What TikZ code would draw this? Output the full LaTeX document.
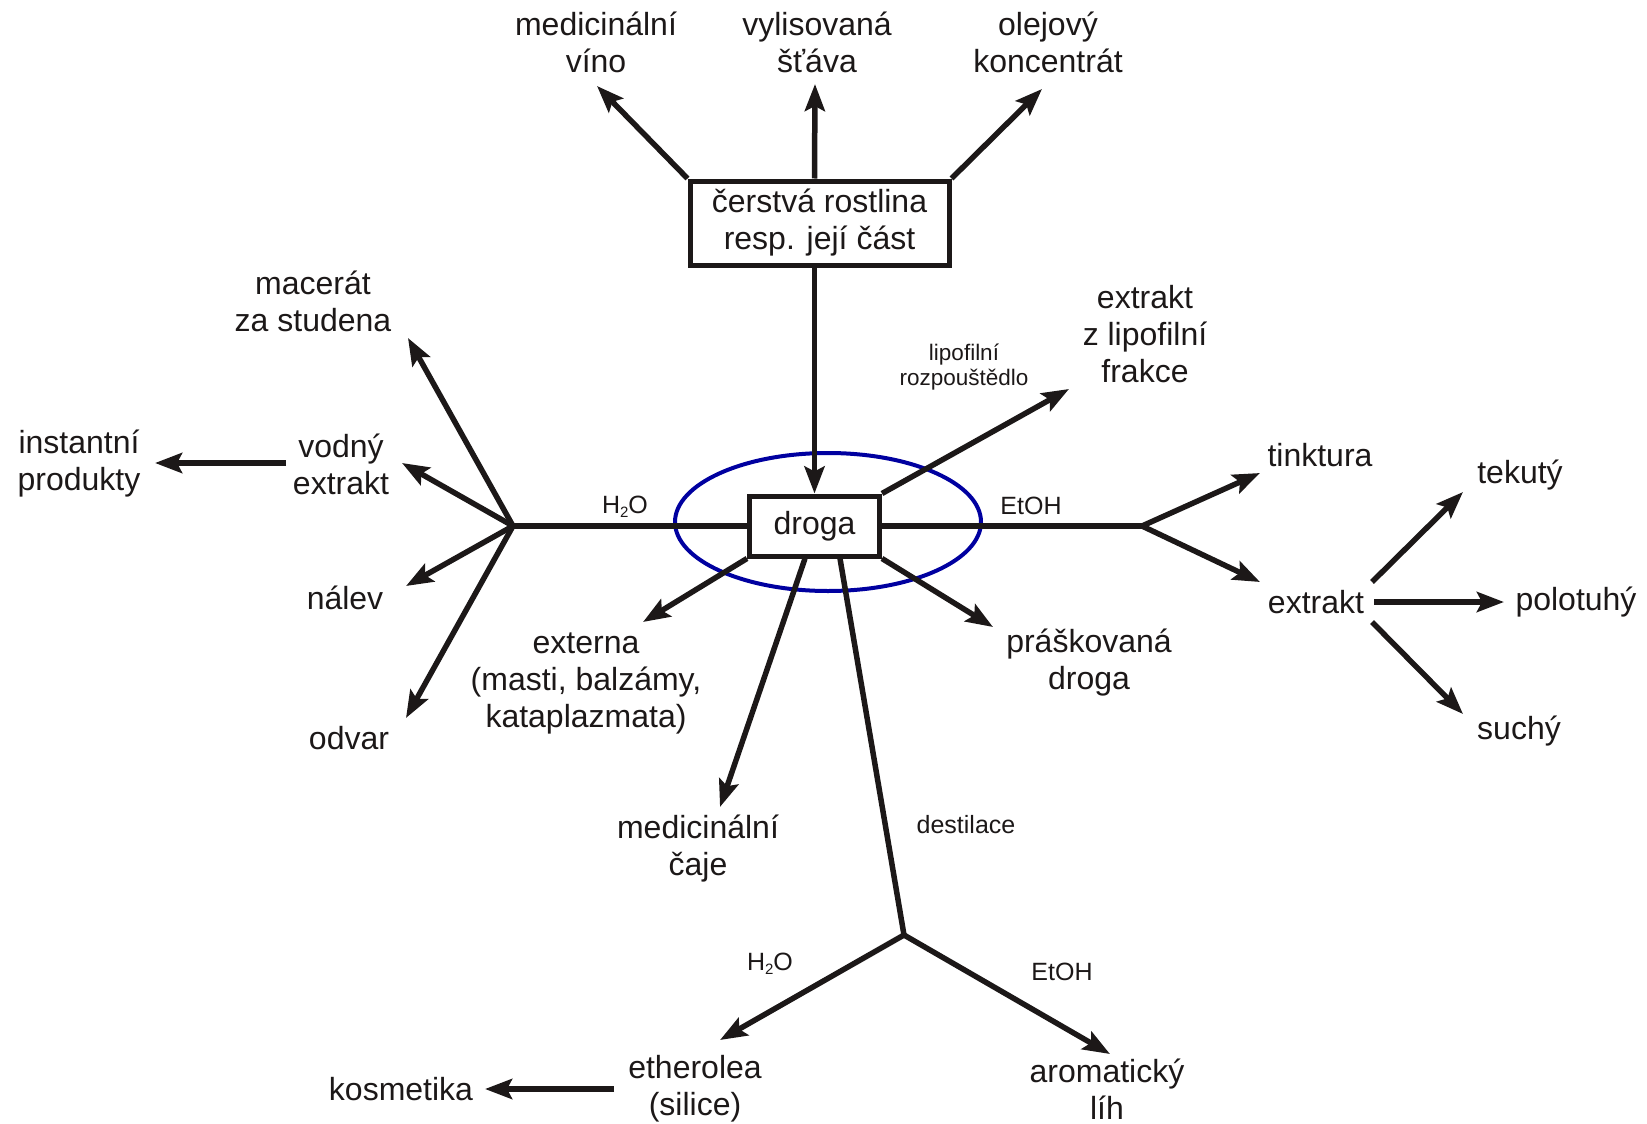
\documentclass[tikz,border=0pt]{standalone}
\usepackage{fontspec}
\setmainfont{Liberation Sans}
\usetikzlibrary{arrows.meta,calc}
\definecolor{ink}{RGB}{28,24,24}
\definecolor{ringblue}{RGB}{0,0,160}
\newcommand{\water}{H\raisebox{-0.3ex}{\fontsize{15}{15}\selectfont 2}O}
\begin{document}
\begin{tikzpicture}[x=1pt,y=-1pt,
  lbl/.style={font=\fontsize{32}{37}\selectfont, align=center, text=ink, inner sep=0pt},
  sml/.style={font=\fontsize{25}{28}\selectfont, align=center, text=ink, inner sep=0pt},
  tny/.style={font=\fontsize{22.5}{25.5}\selectfont, align=center, text=ink, inner sep=0pt},
  box/.style={draw=ink, line width=5pt, align=center, text=ink, inner sep=0pt,
              font=\fontsize{32}{37}\selectfont},
  ln/.style={draw=ink, line width=5.5pt},
  arr/.style={ln, -{Stealth[length=27pt,width=20pt,inset=5pt]}},
]
\useasboundingbox (0,0) rectangle (1647,1124);

% central boxes
\node[box, minimum width=259pt, minimum height=84pt] (plant) at (819.5,223) {čerstvá rostlina\\resp. její část};
\node[box, minimum width=130pt, minimum height=60pt] (droga) at (814.5,526) {droga};
\draw[ringblue, line width=4pt] (828,522) ellipse [x radius=153pt, y radius=69pt];

% products of the fresh plant
\node[lbl] (vino) at (596,42) {medicinální\\víno};
\node[lbl] (stava) at (817,42) {vylisovaná\\šťáva};
\node[lbl] (olej) at (1048,42) {olejový\\koncentrát};
\coordinate (tVino) at (597,86);
\coordinate (tStava) at (815,84);
\coordinate (tOlej) at (1042,89);
\draw[arr] (plant.north west) -- (tVino);
\draw[arr] (plant.north -| droga) -- (tStava);
\draw[arr] (plant.north east) -- (tOlej);
\draw[arr] (plant.south -| droga) -- (droga.north);

% aqueous branch
\coordinate (jL) at (513,526);
\draw[ln] (droga.west) -- (jL);
\node[sml] (h2oL) at (625,507) {\water};
\node[lbl] (macerat) at (313,301) {macerát\\za studena};
\node[lbl] (vodny) at (341,464) {vodný\\extrakt};
\node[lbl] (nalev) at (345,598) {nálev};
\node[lbl] (odvar) at (349,738) {odvar};
\node[lbl] (instant) at (79,464) {instantní\\produkty};
\coordinate (tMacerat) at (408,338);
\coordinate (tVodny) at (402,463);
\coordinate (tNalev) at (406,586);
\coordinate (tOdvar) at (406,718);
\draw[arr] (jL) -- (tMacerat);
\draw[arr] (jL) -- (tVodny);
\draw[arr] (jL) -- (tNalev);
\draw[arr] (jL) -- (tOdvar);
\coordinate (sInstant) at (286,463);
\coordinate (tInstant) at (155,463);
\draw[arr] (sInstant) -- (tInstant);

% ethanolic branch
\coordinate (jR) at (1142,526);
\draw[ln] (droga.east) -- (jR);
\node[sml] (etohR) at (1031,506) {EtOH};
\node[lbl] (tinktura) at (1320,455) {tinktura};
\node[lbl] (extrakt) at (1316,602) {extrakt};
\coordinate (tTinktura) at (1260,473);
\coordinate (tExtrakt) at (1260,582);
\draw[arr] (jR) -- (tTinktura);
\draw[arr] (jR) -- (tExtrakt);
\node[lbl] (tekuty) at (1520,475) {tekutý};
\node[lbl] (polotuhy) at (1576,602) {polotuhý};
\node[lbl] (suchy) at (1519,731) {suchý};
\coordinate (sTekuty) at (1372,582);
\coordinate (tTekuty) at (1463,492);
\coordinate (sPolotuhy) at (1374,602);
\coordinate (tPolotuhy) at (1504,602);
\coordinate (sSuchy) at (1372,622);
\coordinate (tSuchy) at (1463,714);
\draw[arr] (sTekuty) -- (tTekuty);
\draw[arr] (sPolotuhy) -- (tPolotuhy);
\draw[arr] (sSuchy) -- (tSuchy);

% lipophilic extract
\node[lbl] (lipo) at (1145,334) {extrakt\\z lipofilní\\frakce};
\node[tny] (rozp) at (964,367) {lipofilní\\rozpouštědlo};
\coordinate (tLipo) at (1069,389);
\draw[arr] (droga.north east) -- (tLipo);

% direct uses of the drug
\node[lbl] (externa) at (586,683) {externa\\(masti, balzámy,\\kataplazmata)};
\node[lbl] (caje) at (698,849) {medicinální\\čaje};
\node[lbl] (prasek) at (1089,663) {práškovaná\\droga};
\coordinate (tExterna) at (643,622);
\coordinate (tCaje) at (720,807);
\coordinate (tPrasek) at (993,627);
\draw[arr] (droga.south west) -- (tExterna);
\draw[arr] ($(droga.south)+(-9.5,0)$) -- (tCaje);
\draw[arr] (droga.south east) -- (tPrasek);

% distillation
\coordinate (jD) at (904,935);
\draw[ln] ($(droga.south)+(25.5,0)$) -- (jD);
\node[sml] (dest) at (966,825) {destilace};
\node[sml] (h2oD) at (770,964) {\water};
\node[sml] (etohD) at (1062,972) {EtOH};
\node[lbl] (ether) at (695,1089) {etherolea\\(silice)};
\node[lbl] (aroma) at (1107,1089) {aromatický\\líh};
\node[lbl] (kosm) at (401,1089) {kosmetika};
\coordinate (tEther) at (720,1040);
\coordinate (tAroma) at (1110,1054);
\draw[arr] (jD) -- (tEther);
\draw[arr] (jD) -- (tAroma);
\coordinate (sKosm) at (614,1089);
\coordinate (tKosm) at (485,1089);
\draw[arr] (sKosm) -- (tKosm);
\end{tikzpicture}
\end{document}
